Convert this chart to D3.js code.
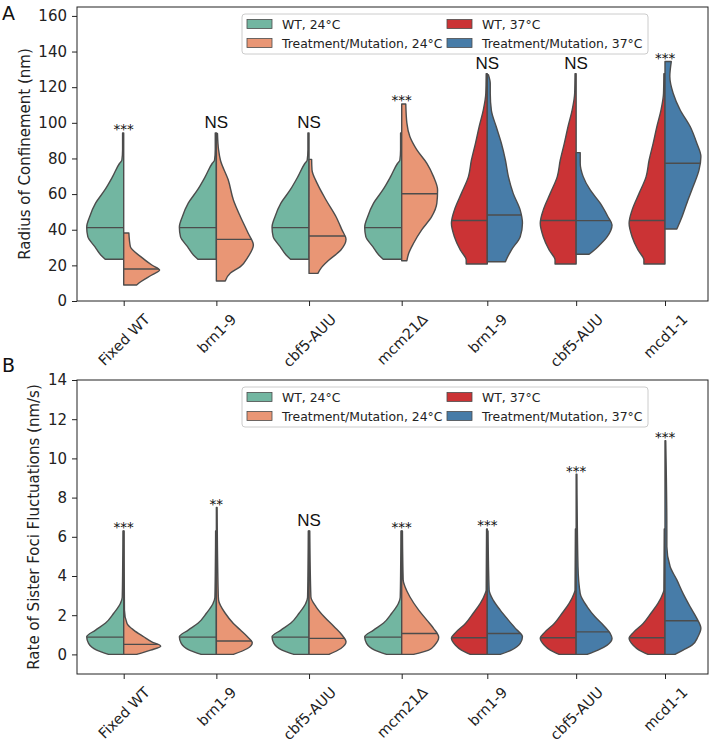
<!DOCTYPE html>
<html><head><meta charset="utf-8">
<script src="https://cdn.jsdelivr.net/npm/d3@7"></script>
<style>body{margin:0;background:#fff} svg{display:block}</style>
</head><body>
<svg id="chart" width="712" height="745"></svg>
<script>
// ---------- shared categories / legend ----------
const categories = ["Fixed WT","brn1-9","cbf5-AUU","mcm21Δ","brn1-9","cbf5-AUU","mcd1-1"];
const groupTemp = ["24","24","24","24","37","37","37"];
const legendLabels = ["WT, 24°C","Treatment/Mutation, 24°C","WT, 37°C","Treatment/Mutation, 37°C"];
const paletteBase = ["#66c2a5","#fc8d62","#e41a1c","#377eb8"];

// ---------- Panel A: radius of confinement (nm); profiles = [value, relative half-width] ----------
const radiusTicks = [0,20,40,60,80,100,120,140,160];
const radiusWT24  = [[94.3,0.03],[85,0.03],[79,0.05],[77.3,0.11],[69.8,0.3],[62.3,0.51],[54.9,0.76],[47.3,0.92],[41.4,1.0],[36.1,0.97],[30.5,0.78],[25.8,0.62],[23.4,0.5]];
const radiusFixed = [[38.2,0.14],[30.5,0.18],[24.9,0.46],[20.2,0.76],[17.4,0.97],[14.6,0.76],[10.8,0.46],[9,0.35]];
const radiusBrn24 = [[94,0.03],[84.8,0.06],[79,0.11],[68,0.32],[56.7,0.46],[47.3,0.65],[38,0.86],[31.4,1.0],[24.9,0.86],[19.3,0.65],[15.7,0.38],[11.2,0.24]];
const radiusCbf24 = [[79.5,0.07],[73.6,0.08],[66,0.22],[56.7,0.46],[47.3,0.73],[39.9,0.89],[34.6,1.0],[28.6,0.86],[23,0.54],[18.3,0.32],[15.5,0.24]];
const radiusMcm24 = [[110.6,0.11],[99.8,0.14],[92.3,0.22],[84.8,0.41],[77.3,0.68],[69.8,0.86],[62.3,0.97],[54.9,0.95],[47.3,0.81],[39.9,0.54],[32.4,0.32],[26.8,0.19],[22.6,0.14]];
const radiusWT37  = [[127.5,0.03],[116.6,0.04],[107,0.11],[97.9,0.22],[88.5,0.32],[79,0.43],[69.8,0.51],[60.4,0.7],[51,0.89],[43.6,0.97],[36.1,0.89],[28.6,0.73],[23,0.57],[20.8,0.57]];
const radiusBrn37 = [[127,0.03],[122,0.08],[116.6,0.08],[107,0.11],[97.9,0.24],[88.5,0.38],[79,0.49],[69.8,0.57],[60.4,0.7],[51,0.89],[43.6,0.95],[36.1,0.89],[28.6,0.65],[23,0.51],[22,0.49]];
const radiusCbf37 = [[83.3,0.11],[77.3,0.11],[69.8,0.19],[62.3,0.38],[54.9,0.65],[47.3,0.86],[42.7,0.97],[36.1,0.84],[30.5,0.59],[26.2,0.35]];
const radiusMcd37 = [[134.4,0.17],[126,0.13],[116.6,0.22],[107.2,0.41],[97.9,0.68],[88.5,0.86],[81,0.97],[73.6,0.92],[64.2,0.76],[54.9,0.59],[47.3,0.46],[40.4,0.32]];
const radiusControl = [radiusWT24,radiusWT24,radiusWT24,radiusWT24,radiusWT37,radiusWT37,radiusWT37];
const radiusTreatment = [radiusFixed,radiusBrn24,radiusCbf24,radiusMcm24,radiusBrn37,radiusCbf37,radiusMcd37];
const radiusControlMedian = [41.2,41.2,41.2,41.2,45.2,45.2,45.2];
const radiusTreatmentMedian = [18,34.6,36.5,60.2,48.3,45.1,77.3];
const radiusSig = ["***","NS","NS","***","NS","NS","***"];

// ---------- Panel B: rate of sister foci fluctuations (nm/s) ----------
const rateTicks = [0,2,4,6,8,10,12,14];
const rateWT24  = [[6.3,0.02],[4,0.03],[2.9,0.04],[2.6,0.09],[2.1,0.27],[1.6,0.49],[1.24,0.76],[0.9,1.0],[0.56,0.95],[0.22,0.73],[0,0.41]];
const rateFixed = [[6.3,0.01],[2.26,0.02],[1.58,0.09],[1.24,0.27],[0.9,0.54],[0.64,0.76],[0.42,1.0],[0.22,0.73],[0,0.35]];
const rateBrn24 = [[7.5,0.02],[3.1,0.05],[2.77,0.06],[2.1,0.24],[1.58,0.46],[1.24,0.65],[0.9,0.84],[0.6,0.97],[0.3,0.84],[0,0.46]];
const rateCbf24 = [[6.3,0.02],[2.94,0.05],[2.43,0.19],[1.92,0.41],[1.41,0.68],[0.99,0.89],[0.64,1.0],[0.3,0.86],[0,0.54]];
const rateMcm24 = [[6.3,0.02],[3.8,0.04],[3.45,0.09],[2.94,0.22],[2.26,0.46],[1.75,0.68],[1.33,0.86],[0.87,1.0],[0.47,0.89],[0.22,0.73],[0,0.32]];
const rateWT37  = [[6.4,0.02],[3.28,0.03],[3.1,0.06],[2.6,0.19],[2.1,0.38],[1.58,0.59],[1.15,0.84],[0.82,0.97],[0.47,0.86],[0.22,0.7],[0,0.46]];
const rateBrn37 = [[6.3,0.02],[3.28,0.05],[2.77,0.16],[2.26,0.35],[1.75,0.57],[1.33,0.76],[0.9,0.95],[0.56,0.89],[0.22,0.65],[0,0.35]];
const rateCbf37 = [[9.2,0.02],[4.47,0.05],[3.1,0.11],[2.43,0.3],[1.92,0.51],[1.5,0.73],[1.07,0.92],[0.82,0.97],[0.47,0.84],[0.22,0.59],[0,0.3]];
const rateMcd37 = [[10.9,0.02],[6.35,0.05],[5.5,0.05],[4.47,0.14],[3.8,0.32],[3.1,0.49],[2.43,0.68],[1.84,0.86],[1.33,0.97],[0.9,0.89],[0.47,0.73],[0.22,0.49],[0,0.27]];
const rateControl = [rateWT24,rateWT24,rateWT24,rateWT24,rateWT37,rateWT37,rateWT37];
const rateTreatment = [rateFixed,rateBrn24,rateCbf24,rateMcm24,rateBrn37,rateCbf37,rateMcd37];
const rateControlMedian = [0.88,0.88,0.88,0.88,0.85,0.85,0.85];
const rateTreatmentMedian = [0.51,0.68,0.82,1.07,1.07,1.15,1.72];
const rateSig = ["***","**","NS","***","***","***","***"];

// ---------- rendering ----------
const svg = d3.select("#chart");
const FONT = "'DejaVu Sans', sans-serif";
const TEXT = "#222";
const EDGE = "#4c4c4c";
const desat = c => { const h = d3.hsl(c); h.s *= 0.75; return h.formatHex(); };
const palette = paletteBase.map(desat);
const colorOf = (i, side) => palette[(groupTemp[i] === "24" ? 0 : 2) + side];

const left = 77, right = 708;
const x = d3.scaleLinear().domain([0,3,4,6]).range([123.7,401.7,487.3,665]);
const w = d3.scaleLinear().domain([0,1]).range([0,37]);

function drawPanel(p) {
  const g = svg.append("g");
  const y = d3.scaleLinear().domain(p.domain).range([p.bottom, p.top]);

  // violins
  const halves = [];
  d3.range(categories.length).forEach(i => {
    halves.push({i, side:0, prof:p.control[i], med:p.controlMedian[i]});
    halves.push({i, side:1, prof:p.treatment[i], med:p.treatmentMedian[i]});
  });
  halves.forEach(h => {
    const cx = x(h.i), dir = h.side === 0 ? -1 : 1;
    const area = d3.area().y(d => y(d[0])).x0(cx).x1(d => cx + dir * w(d[1])).curve(d3.curveMonotoneY);
    g.append("path").attr("d", area(h.prof)).attr("fill", colorOf(h.i, h.side))
      .attr("stroke", EDGE).attr("stroke-width", 1.4).attr("stroke-linejoin","round");
    // median line: find outer-edge x at median via the same curve
    const edge = d3.line().y(d => y(d[0])).x(d => cx + dir * w(d[1])).curve(d3.curveMonotoneY);
    const tmp = g.append("path").attr("d", edge(h.prof)).attr("fill","none").attr("stroke","none");
    const node = tmp.node(), L = node.getTotalLength(), ym = y(h.med);
    let best = null, bd = 1e9;
    for (let k = 0; k <= 600; k++) {
      const pt = node.getPointAtLength(L * k / 600);
      const dd = Math.abs(pt.y - ym);
      if (dd < bd) { bd = dd; best = pt; }
    }
    tmp.remove();
    g.append("line").attr("x1", cx).attr("x2", best.x).attr("y1", ym).attr("y2", ym)
      .attr("stroke", EDGE).attr("stroke-width", 1.4);
  });

  // significance labels
  d3.range(categories.length).forEach(i => {
    const top = Math.max(p.control[i][0][0], p.treatment[i][0][0]);
    const s = p.sig[i];
    const isNS = s === "NS";
    g.append("text").attr("x", x(i)).attr("y", y(top) + (isNS ? -4.5 : 1.5))
      .attr("text-anchor","middle").attr("fill", "#111")
      .style("font-family", isNS ? "'Liberation Sans', Arial, sans-serif" : FONT)
      .style("font-size", isNS ? "17px" : "13.5px").text(s);
  });

  // frame
  g.append("rect").attr("x", left).attr("y", p.top).attr("width", right - left).attr("height", p.bottom - p.top)
    .attr("fill","none").attr("stroke", TEXT).attr("stroke-width", 1);

  // y axis
  const ya = g.append("g").attr("transform", `translate(${left},0)`)
    .call(d3.axisLeft(y).tickValues(p.ticks).tickSize(5).tickSizeOuter(0).tickPadding(5));
  ya.select(".domain").remove();
  ya.selectAll(".tick line").attr("stroke", TEXT);
  ya.selectAll(".tick text").attr("fill", TEXT).style("font-family", FONT).style("font-size","15px");

  // x axis
  const xa = g.append("g").attr("transform", `translate(0,${p.bottom})`)
    .call(d3.axisBottom(x).tickValues(d3.range(categories.length)).tickFormat(i => categories[i]).tickSize(5).tickSizeOuter(0));
  xa.select(".domain").remove();
  xa.selectAll(".tick line").attr("stroke", TEXT);
  xa.selectAll(".tick text").attr("fill", TEXT).style("font-family", FONT).style("font-size","14.5px")
    .attr("y", 0).attr("dy", null)
    .attr("text-anchor","middle").attr("dominant-baseline","central")
    .attr("transform", function() {
      const L = this.getComputedTextLength();
      const bh = (L + 14.5 * 1.1) * Math.SQRT1_2;
      return `translate(0,${10 + bh / 2}) rotate(-45)`;
    });

  // y label
  g.append("text").attr("transform", `translate(${p.yLabelX},${(p.top + p.bottom) / 2}) rotate(-90)`)
    .attr("text-anchor","middle").attr("dominant-baseline","central").attr("fill", TEXT)
    .style("font-family", FONT).style("font-size","15px").text(p.yLabel);

  // panel letter
  g.append("text").attr("x", 2).attr("y", p.letterY).attr("fill", "#111")
    .style("font-family", FONT).style("font-size","19px").text(p.letter);

  // legend
  const lg = g.append("g");
  const lt = p.top + 7;
  lg.append("rect").attr("x", 242).attr("y", lt).attr("width", 406).attr("height", 40).attr("rx", 3)
    .attr("fill", "#fff").attr("fill-opacity", 0.8).attr("stroke", "#cccccc").attr("stroke-width", 1);
  const colX = [247, 447], rowY = [lt + 10, lt + 29];
  legendLabels.forEach((lab, k) => {
    const col = Math.floor(k / 2), row = k % 2;
    lg.append("rect").attr("x", colX[col]).attr("y", rowY[row] - 4.5).attr("width", 25).attr("height", 9)
      .attr("fill", palette[k]).attr("stroke", EDGE).attr("stroke-width", 0.8);
    lg.append("text").attr("x", colX[col] + 35).attr("y", rowY[row]).attr("dominant-baseline","central")
      .attr("fill", TEXT).style("font-family", FONT).style("font-size","12.4px").text(lab);
  });
}

drawPanel({top:7, bottom:301, domain:[0,165], ticks:radiusTicks, control:radiusControl, treatment:radiusTreatment,
  controlMedian:radiusControlMedian, treatmentMedian:radiusTreatmentMedian, sig:radiusSig,
  yLabel:"Radius of Confinement (nm)", yLabelX:24.5, letter:"A", letterY:20});
drawPanel({top:380, bottom:674, domain:[-1,14], ticks:rateTicks, control:rateControl, treatment:rateTreatment,
  controlMedian:rateControlMedian, treatmentMedian:rateTreatmentMedian, sig:rateSig,
  yLabel:"Rate of Sister Foci Fluctuations (nm/s)", yLabelX:34, letter:"B", letterY:372});
</script>
</body></html>
